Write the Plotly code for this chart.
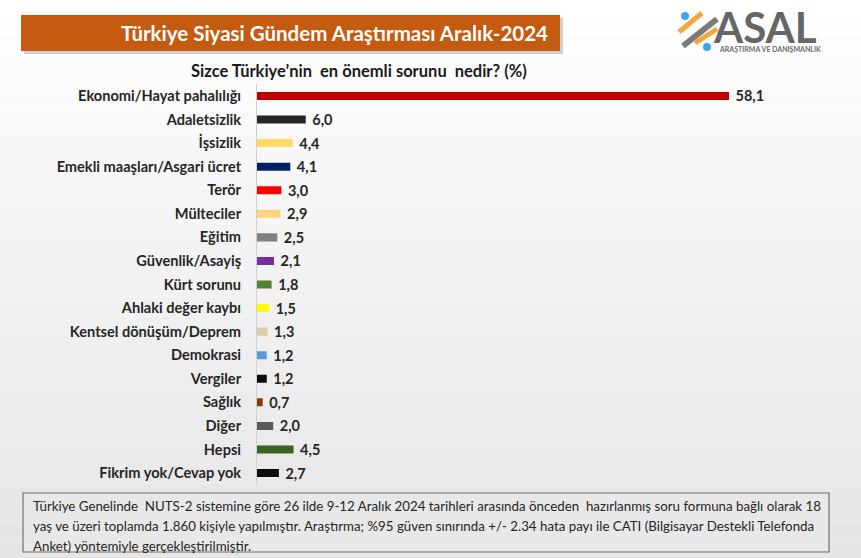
import plotly.graph_objects as go

W, H = 861, 558

categories = [
    "Ekonomi/Hayat pahalılığı", "Adaletsizlik", "İşsizlik",
    "Emekli maaşları/Asgari ücret", "Terör", "Mülteciler", "Eğitim",
    "Güvenlik/Asayiş", "Kürt sorunu", "Ahlaki değer kaybı",
    "Kentsel dönüşüm/Deprem", "Demokrasi", "Vergiler", "Sağlık",
    "Diğer", "Hepsi", "Fikrim yok/Cevap yok",
]
values = [58.1, 6.0, 4.4, 4.1, 3.0, 2.9, 2.5, 2.1, 1.8, 1.5, 1.3, 1.2, 1.2, 0.7, 2.0, 4.5, 2.7]
colors = [
    "#C00000", "#262626", "#FFD966", "#002060", "#FF0000", "#FFD47A", "#808080",
    "#7030A0", "#548235", "#FFFF00", "#DDCBA8", "#5B9BD5", "#0D0D0D", "#843C0C",
    "#595959", "#3B6324", "#0D0D0D",
]

title = "Türkiye Siyasi Gündem Araştırması Aralık-2024"
subtitle = "Sizce Türkiye’nin  en önemli sorunu  nedir? (%)"
note_lines = [
    "Türkiye Genelinde  NUTS-2 sistemine göre 26 ilde 9-12 Aralık 2024 tarihleri arasında önceden  hazırlanmış soru formuna bağlı olarak 18",
    "yaş ve üzeri toplamda 1.860 kişiyle yapılmıştır. Araştırma; %95 güven sınırında +/- 2.34 hata payı ile CATI (Bilgisayar Destekli Telefonda",
    "Anket) yöntemiyle gerçekleştirilmiştir.",
]

FONT = "Lato"


def px(x):
    return x / W


def py(y):
    return 1 - y / H


def note(text, x, y, size, color, weight="normal", xanchor="center"):
    return dict(text=text, x=px(x), y=py(y), xref="paper", yref="paper", showarrow=False,
                xanchor=xanchor, yanchor="middle",
                font=dict(family=FONT, size=size, color=color, weight=weight))


fig = go.Figure(go.Bar(
    y=categories, x=values, orientation="h",
    marker=dict(color=colors, line=dict(width=0)),
    width=0.34,
    texttemplate="\u00a0%{x:.1f}", textposition="outside", cliponaxis=False,
    constraintext="none",
    textfont=dict(family=FONT, size=14.5, color="#262626", weight="bold"),
    hoverinfo="skip",
))

shapes = []
# soft grey gradient behind everything
n = 30
for i in range(n):
    g = int(255 - 25 * i / (n - 1))
    shapes.append(dict(type="rect", xref="paper", yref="paper", layer="below",
                       x0=0, x1=1, y0=1 - (i + 1) / n, y1=1 - i / n,
                       fillcolor=f"rgb({g},{g},{g})", line=dict(width=0)))
# title banner with a light shadow
shapes.append(dict(type="rect", xref="paper", yref="paper", layer="below",
                   x0=px(24), x1=px(563), y0=py(54), y1=py(18),
                   fillcolor="rgba(0,0,0,0.18)", line=dict(width=0)))
shapes.append(dict(type="rect", xref="paper", yref="paper", layer="below",
                   x0=px(21), x1=px(560), y0=py(51), y1=py(15),
                   fillcolor="#C55A11", line=dict(width=0)))
# footer box
shapes.append(dict(type="rect", xref="paper", yref="paper", layer="below",
                   x0=px(23), x1=px(829), y0=py(552), y1=py(493),
                   fillcolor="#E8E8E8", line=dict(color="#6E6E6E", width=1.2)))
# logo mark
for (x0, y0, x1, y1, c, w) in [(679, 32, 702, 13, "#F7A541", 5), (683, 46, 717, 19, "#7A7A7A", 6),
                               (695, 43, 717, 29, "#F7A541", 5)]:
    shapes.append(dict(type="line", xref="paper", yref="paper",
                       x0=px(x0), y0=py(y0), x1=px(x1), y1=py(y1),
                       line=dict(color=c, width=w)))
for (cx, cy) in [(685, 16), (707, 47)]:
    shapes.append(dict(type="circle", xref="paper", yref="paper",
                       x0=px(cx - 4), x1=px(cx + 4), y0=py(cy + 4), y1=py(cy - 4),
                       fillcolor="#3DA5F0", line=dict(width=0)))

annotations = [
    note(title, 334, 33, 20.5, "white", "bold"),
    note(subtitle, 359, 71, 16.5, "#1A1A1A", "bold"),
    note("ASAL", 711, 27, 42, "#666666", "bold", "left"),
    note("ARAŞTIRMA VE DANIŞMANLIK", 717, 49, 7, "#6B6B6B", "bold", "left"),
]
for i, line in enumerate(note_lines):
    annotations.append(note(line, 31, 506 + 20 * i, 13.3, "#262626", xanchor="left"))

fig.update_layout(
    width=W, height=H,
    margin=dict(l=0, r=0, t=0, b=0),
    paper_bgcolor="white", plot_bgcolor="rgba(0,0,0,0)",
    separators=",.",
    showlegend=False,
    xaxis=dict(domain=[px(257), px(845)], range=[0, (845 - 257) / (472 / 58.1)],
               visible=False, fixedrange=True),
    yaxis=dict(domain=[py(484.8), py(84.2)], autorange="reversed",
               showline=True, linecolor="#D0D0D0", linewidth=1,
               showgrid=False, ticks="", ticklabelstandoff=12,
               tickfont=dict(family=FONT, size=14.6, color="#262626", weight="bold"),
               fixedrange=True),
    shapes=shapes,
    annotations=annotations,
)

fig.write_html("out.html", config={"displayModeBar": False},
               post_script="document.body.style.margin='0';")
